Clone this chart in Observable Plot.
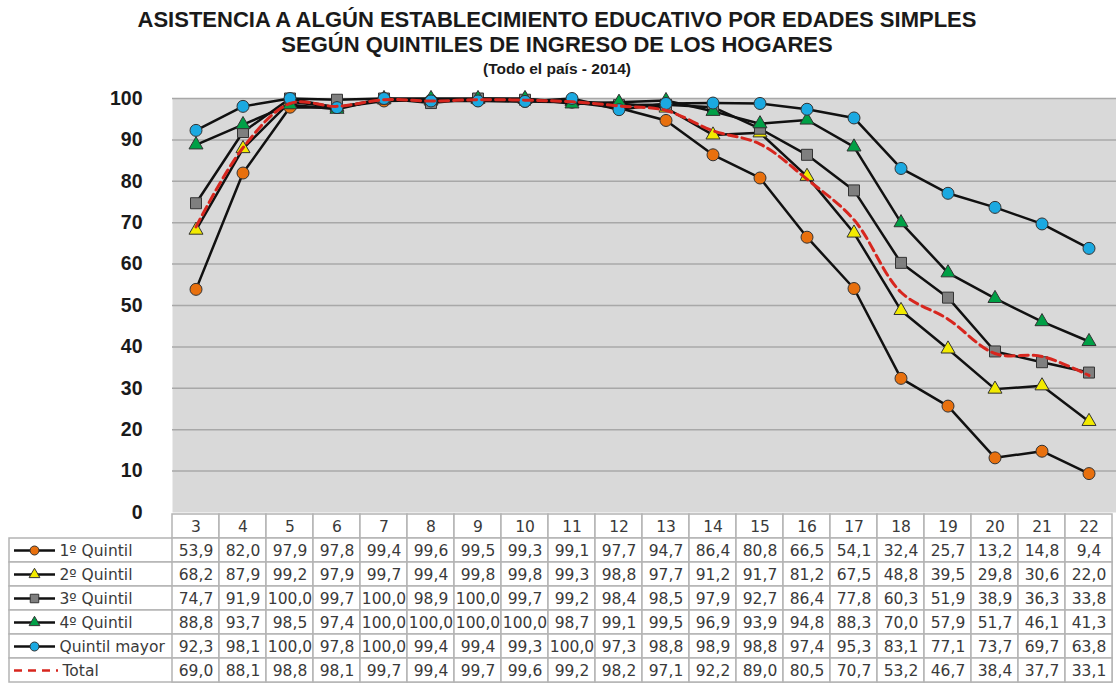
<!DOCTYPE html>
<html>
<head>
<meta charset="utf-8">
<script src="https://cdn.jsdelivr.net/npm/d3@7"></script>
<script src="https://cdn.jsdelivr.net/npm/@observablehq/plot@0.6"></script>
<style>
  html, body { margin: 0; padding: 0; background: white; }
  #wrap { position: relative; width: 1116px; height: 683px; overflow: hidden; }
  .t { position: absolute; left: 0; width: 1114px; text-align: center; font-family: "Liberation Sans", Arial, sans-serif; font-weight: bold; color: #1a1a1a; white-space: nowrap; }
  #t1 { top: 7px; font-size: 22px; line-height: 25px; }
  #t2 { top: 60px; font-size: 15.5px; line-height: 18px; }
  #chart { position: absolute; left: 0; top: 80px; }
  #table { position: absolute; left: 0; top: 512px; }
</style>
</head>
<body>
<div id="wrap">
  <div class="t" id="t1">ASISTENCIA A ALGÚN ESTABLECIMIENTO EDUCATIVO POR EDADES SIMPLES<br>SEGÚN QUINTILES DE INGRESO DE LOS HOGARES</div>
  <div class="t" id="t2">(Todo el país - 2014)</div>
  <div id="chart"></div>
  <div id="table"></div>
</div>
<script>
const ages = [3,4,5,6,7,8,9,10,11,12,13,14,15,16,17,18,19,20,21,22];
const seriesNames = ["1º Quintil","2º Quintil","3º Quintil","4º Quintil","Quintil mayor","Total"];
const q1 = [53.9,82.0,97.9,97.8,99.4,99.6,99.5,99.3,99.1,97.7,94.7,86.4,80.8,66.5,54.1,32.4,25.7,13.2,14.8,9.4];
const q2 = [68.2,87.9,99.2,97.9,99.7,99.4,99.8,99.8,99.3,98.8,97.7,91.2,91.7,81.2,67.5,48.8,39.5,29.8,30.6,22.0];
const q3 = [74.7,91.9,100.0,99.7,100.0,98.9,100.0,99.7,99.2,98.4,98.5,97.9,92.7,86.4,77.8,60.3,51.9,38.9,36.3,33.8];
const q4 = [88.8,93.7,98.5,97.4,100.0,100.0,100.0,100.0,98.7,99.1,99.5,96.9,93.9,94.8,88.3,70.0,57.9,51.7,46.1,41.3];
const q5 = [92.3,98.1,100.0,97.8,100.0,99.4,99.4,99.3,100.0,97.3,98.8,98.9,98.8,97.4,95.3,83.1,77.1,73.7,69.7,63.8];
const total = [69.0,88.1,98.8,98.1,99.7,99.4,99.7,99.6,99.2,98.2,97.1,92.2,89.0,80.5,70.7,53.2,46.7,38.4,37.7,33.1];
const yTicks = [0,10,20,30,40,50,60,70,80,90,100];

const seriesValues = [q1, q2, q3, q4, q5, total];
const symbols = ["circle","triangle","square","triangle","circle", null];
const fills = ["#e8700e","#f2ea00","#7f7f7f","#00a046","#1ba9e1", null];
const radii = [6, 5.2, 6.2, 5.2, 6, 0];
const legendRadii = [4.5, 4, 4.8, 4, 4.5, 0];

const data = seriesNames.flatMap((s, i) => ages.map((a, j) => ({series: s, age: a, value: seriesValues[i][j]})));
const fmt = v => d3.format(".1f")(v).replace(".", ",");

const fontChart = "'Liberation Sans', Arial, sans-serif";
const fontTable = "'DejaVu Sans', Verdana, sans-serif";

const marks = [
  Plot.frame({fill: "#d9d9d9", insetRight: -4}),
  Plot.ruleY(yTicks.filter(d => d > 0), {stroke: "#a8a8a8", strokeWidth: 1.5, insetRight: -4}),
  Plot.axisY({ticks: yTicks, tickSize: 0, tickPadding: 30, fontSize: 19.5, fontWeight: "bold", fill: "#1a1a1a", label: null, tickFormat: d => String(d)})
];
seriesNames.forEach((s, i) => {
  const d = data.filter(r => r.series === s);
  if (s === "Total") {
    marks.push(Plot.line(d, {x: "age", y: "value", stroke: "#d7261e", strokeWidth: 3, strokeDasharray: "9,5", curve: "catmull-rom"}));
  } else {
    marks.push(Plot.line(d, {x: "age", y: "value", stroke: "#111", strokeWidth: 2.5}));
    marks.push(Plot.dot(d, {x: "age", y: "value", symbol: () => symbols[i], r: radii[i], fill: fills[i], stroke: "#333", strokeWidth: 1}));
  }
});

const chart = Plot.plot({
  width: 1116, height: 432,
  marginLeft: 172, marginRight: 4, marginTop: 18, marginBottom: 0,
  x: {type: "band", domain: ages, padding: 0, axis: null},
  y: {domain: [0, 100], axis: null},
  symbol: {type: "identity"},
  style: {background: "transparent", overflow: "visible", fontFamily: fontChart},
  marks
});
document.getElementById("chart").append(chart);

// Data table
const rows = ["edad", ...seriesNames];
const headerCells = ages.map(a => ({row: "edad", age: a, label: String(a)}));
const valueCells = data.map(r => ({row: r.series, age: r.age, label: fmt(r.value)}));
const cells = headerCells.concat(valueCells);
const quint = seriesNames.filter(s => s !== "Total");

const tableMarks = [
  Plot.cell(seriesNames, {y: d => d, insetLeft: -163, fill: "white", stroke: "#b4b4b4", strokeWidth: 1.5}),
  Plot.cell(cells, {x: "age", y: "row", fill: "white", stroke: "#b4b4b4", strokeWidth: 1.5}),
  Plot.text(cells, {x: "age", y: "row", text: "label", fontSize: 15.5, fontFamily: fontTable, fill: "#3a3a3a", dy: 1}),
  Plot.ruleY(quint, {y: d => d, insetLeft: -158, insetRight: 1057, stroke: "#111", strokeWidth: 2.5}),
  Plot.ruleY(["Total"], {y: d => d, insetLeft: -158, insetRight: 1054, stroke: "#d7261e", strokeWidth: 2.5, strokeDasharray: "8,6"}),
  Plot.dot(quint, {y: d => d, frameAnchor: "left", dx: -138, symbol: d => symbols[seriesNames.indexOf(d)], r: d => legendRadii[seriesNames.indexOf(d)], fill: d => fills[seriesNames.indexOf(d)], stroke: "#333", strokeWidth: 1}),
  Plot.text(quint, {y: d => d, text: d => d, frameAnchor: "left", dx: -113, textAnchor: "start", fontSize: 15.5, fontFamily: fontTable, fill: "#3a3a3a", dy: 1}),
  Plot.text(["Total"], {y: d => d, text: d => d, frameAnchor: "left", dx: -110, textAnchor: "start", fontSize: 15.5, fontFamily: fontTable, fill: "#3a3a3a", dy: 1})
];

const table = Plot.plot({
  width: 1116, height: 171,
  marginLeft: 172, marginRight: 4, marginTop: 0, marginBottom: 0,
  x: {type: "band", domain: ages, padding: 0, axis: null},
  y: {type: "band", domain: rows, padding: 0, axis: null},
  symbol: {type: "identity"},
  r: {type: "identity"},
  style: {background: "transparent", overflow: "visible", fontFamily: fontTable},
  marks: tableMarks
});
document.getElementById("table").append(table);
</script>
</body>
</html>
